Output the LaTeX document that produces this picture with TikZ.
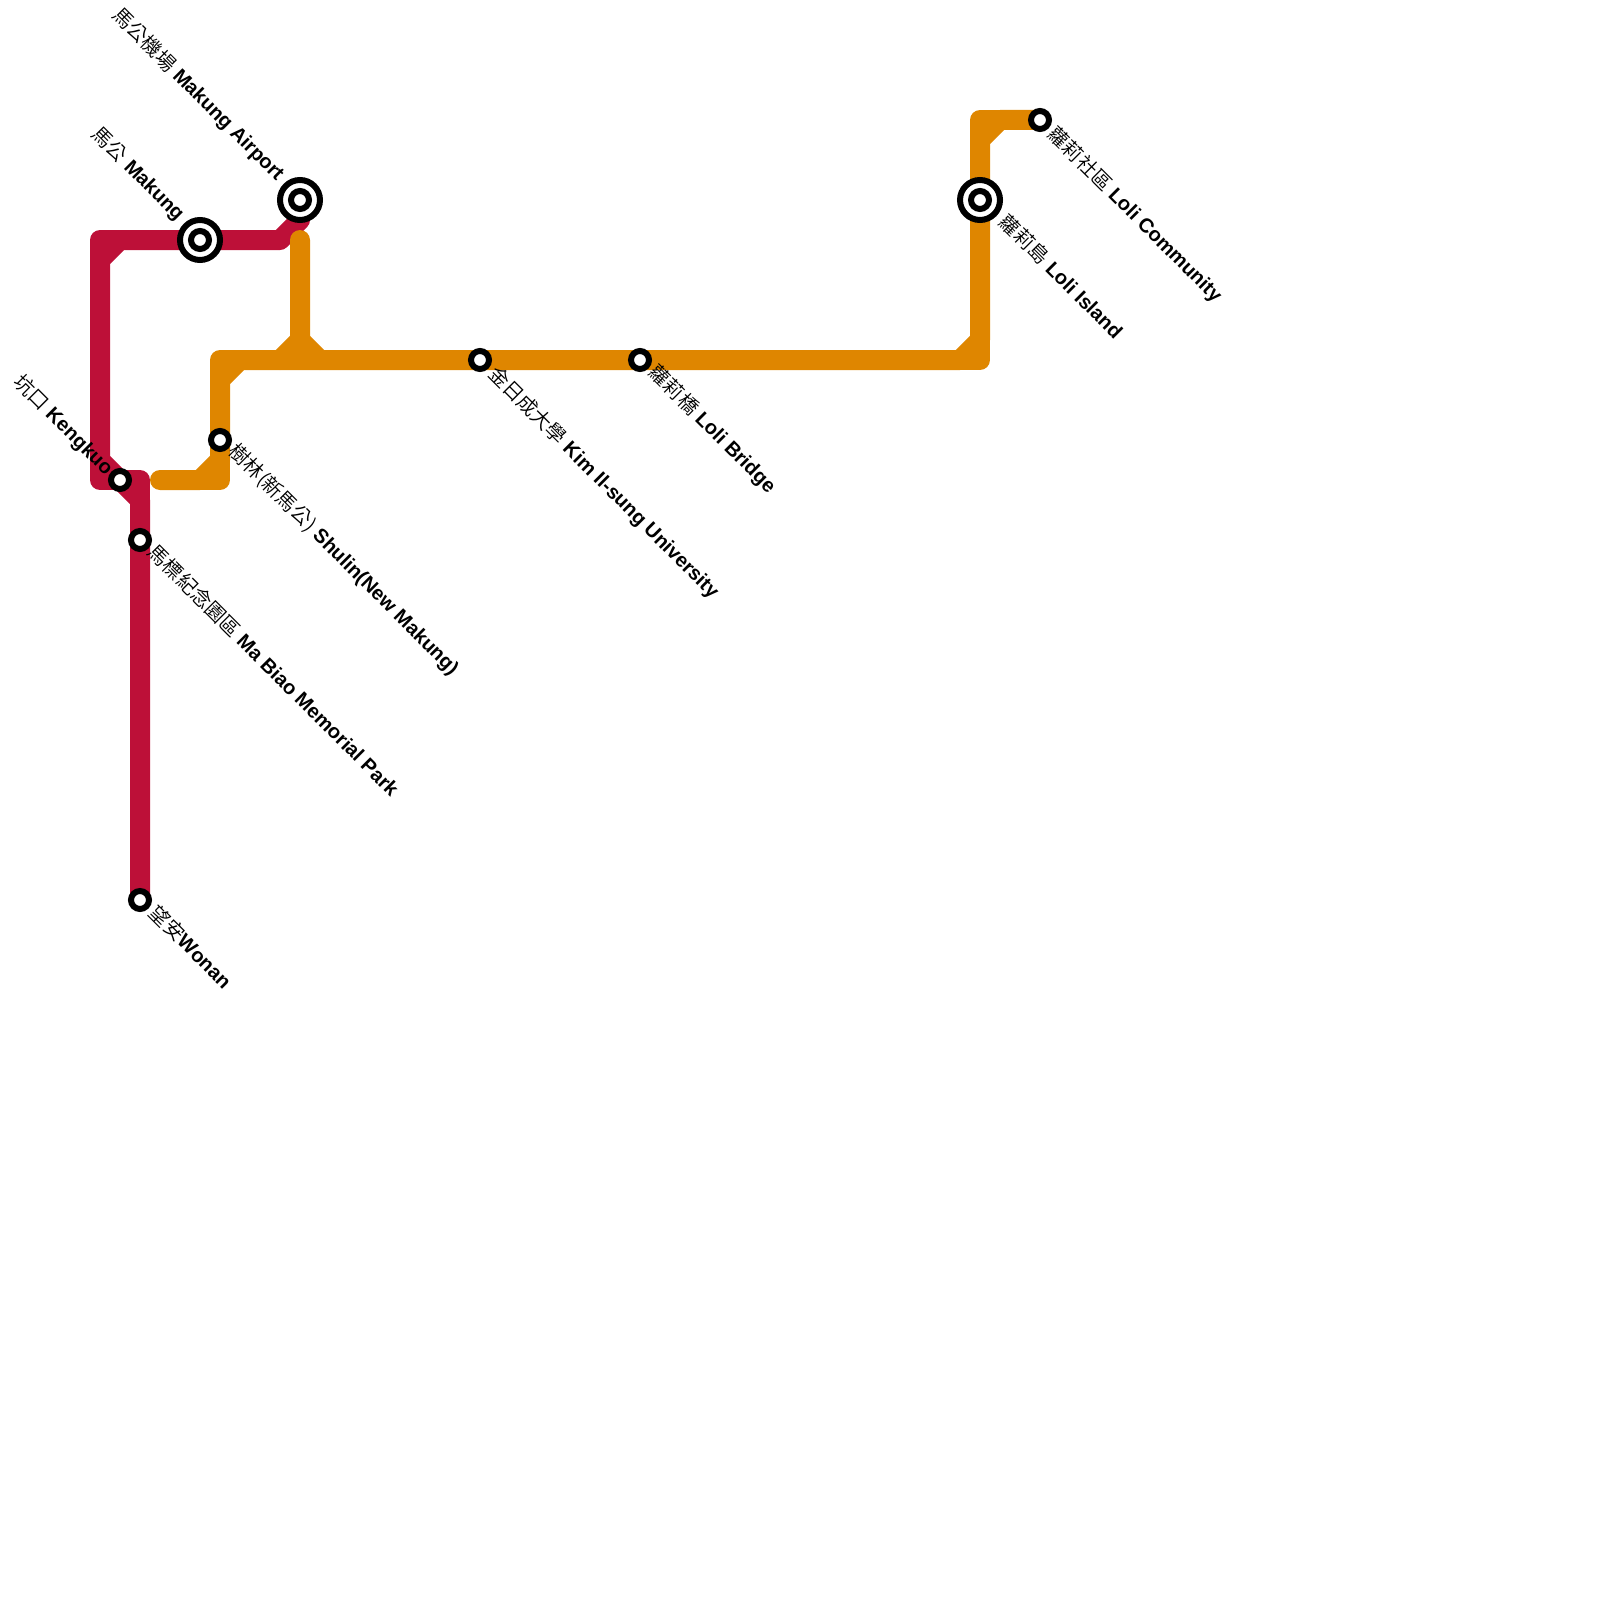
\documentclass[tikz,border=0pt]{standalone}
\usepackage{fontspec}
\setmainfont{Liberation Sans}
\newfontfamily\cjk{Noto Sans CJK TC DemiLight}
\usetikzlibrary{backgrounds}
\definecolor{lineRed}{HTML}{BD1038}
\definecolor{lineOrange}{HTML}{DF8600}
\tikzset{
  stop/.style    = {circle, draw=black, fill=white, line width=3pt, minimum size=9pt, inner sep=0pt},
  ring/.style    = {circle, draw=black, fill=white, line width=3pt, minimum size=20pt, inner sep=0pt},
  redline/.style = {draw=lineRed, line width=10pt, line join=round, line cap=round},
  orgline/.style = {draw=lineOrange, line width=10pt, line join=round, line cap=round},
  lblin/.style   = {rotate=-45, anchor=west, font=\fontsize{10}{12}\selectfont, inner sep=0pt},
  lblout/.style  = {rotate=-45, anchor=east, font=\fontsize{10}{12}\selectfont, inner sep=0pt}
}
\newcommand{\zh}[1]{{\cjk #1}}
\begin{document}
\begin{tikzpicture}[x=0.5pt,y=-0.5pt]
\useasboundingbox (0,0) rectangle (1600,1600);

% --- interchange rings ----------------------------------------------------
\node[ring] (makungRing)  at (200,240) {};
\node[ring] (airportRing) at (300,200) {};
\node[ring] (islandRing)  at (980,200) {};

% --- stations --------------------------------------------------------------
\node[stop] (makung)    at (200,240) {};
\node[stop] (airport)   at (300,200) {};
\node[stop] (island)    at (980,200) {};
\node[stop] (kengkuo)   at (120,480) {};
\node[stop] (mabiao)    at (140,540) {};
\node[stop] (wonan)     at (140,900) {};
\node[stop] (shulin)    at (220,440) {};
\node[stop] (kimil)     at (480,360) {};
\node[stop] (bridge)    at (640,360) {};
\node[stop] (community) at (1040,120) {};

% --- bends -------------------------------------------------------------------
\coordinate (r1) at (140,500);
\coordinate (r2) at (100,460);
\coordinate (r3) at (100,260);
\coordinate (r4) at (120,240);
\coordinate (r5) at (280,240);
\coordinate (r6) at (300,220);
\coordinate (r7) at (100,240);
\coordinate (r8) at (100,480);
\coordinate (r9) at (140,480);

\coordinate (o1) at (160,480);
\coordinate (o2) at (200,480);
\coordinate (o3) at (220,480);
\coordinate (o4) at (220,460);
\coordinate (o5) at (220,380);
\coordinate (o6) at (220,360);
\coordinate (o7) at (240,360);
\coordinate (o8) at (960,360);
\coordinate (o9) at (980,360);
\coordinate (o10) at (980,340);
\coordinate (o11) at (980,140);
\coordinate (o12) at (980,120);
\coordinate (o13) at (1000,120);
\coordinate (o14) at (300,240);
\coordinate (o15) at (300,340);
\coordinate (o16) at (280,360);
\coordinate (o17) at (320,360);

% --- the two lines ---------------------------------------------------------
\begin{scope}[on background layer]
\draw[redline] (wonan.center) -- (mabiao.center) -- (r1) -- (r2) -- (r3) -- (r4)
   -- (makung.center) -- (r5) -- (r6) -- (airport.center);
\draw[redline] (r3) -- (r7) -- (r4);
\draw[redline] (r2) -- (r8) -- (kengkuo.center) -- (r9) -- (r1);

\draw[orgline] (o1) -- (o2) -- (o4) -- (shulin.center) -- (o5) -- (o7)
   -- (kimil.center) -- (bridge.center) -- (o8) -- (o10) -- (island.center)
   -- (o11) -- (o13) -- (community.center);
\draw[orgline] (o2) -- (o3) -- (o4);
\draw[orgline] (o5) -- (o6) -- (o7);
\draw[orgline] (o8) -- (o9) -- (o10);
\draw[orgline] (o11) -- (o12) -- (o13);
\draw[orgline] (o14) -- (o15) -- (o16);
\draw[orgline] (o15) -- (o17);
\end{scope}

% --- labels ------------------------------------------------------------------
\node[lblout] (airportLbl) at (281,177.5) {\zh{馬公機場} \textbf{Makung Airport}};
\node[lblout] (makungLbl)  at (181,217.5) {\zh{馬公} \textbf{Makung}};
\node[lblout] (kengkuoLbl) at (110,472) {\zh{坑口} \textbf{Kengkuo}};
\node[lblin] (shulinLbl) at (232,448) {\zh{樹林(新馬公)} \textbf{Shulin(New Makung)}};
\node[lblin] (mabiaoLbl) at (152,548) {\zh{馬標紀念園區} \textbf{Ma Biao Memorial Park}};
\node[lblin] (wonanLbl)  at (153,909) {\zh{望安}\textbf{Wonan}};
\node[lblin] (kimilLbl)  at (491.5,370.5) {\zh{金日成大學} \textbf{Kim Il-sung University}};
\node[lblin] (bridgeLbl) at (652,369) {\zh{蘿莉橋} \textbf{Loli Bridge}};
\node[lblin] (islandLbl) at (1003,218) {\zh{蘿莉島} \textbf{Loli Island}};
\node[lblin] (communityLbl) at (1051,131) {\zh{蘿莉社區} \textbf{Loli Community}};

\end{tikzpicture}
\end{document}
